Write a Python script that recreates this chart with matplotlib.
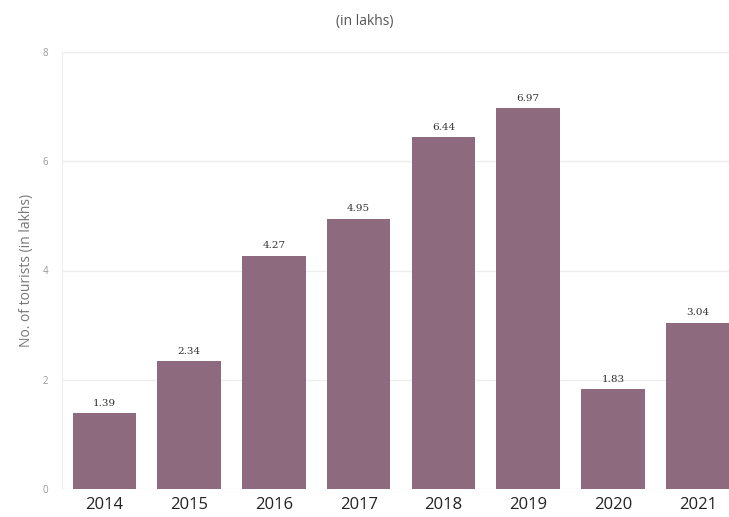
import matplotlib
matplotlib.use("Agg")
import matplotlib.pyplot as plt

years = ["2014", "2015", "2016", "2017", "2018", "2019", "2020", "2021"]
tourists = [1.39, 2.34, 4.27, 4.95, 6.44, 6.97, 1.83, 3.04]
yticks = [0, 2, 4, 6, 8]

plt.rcParams['font.family'] = ['Open Sans', 'DejaVu Sans']

fig = plt.figure(figsize=(7.29, 5.17), dpi=100)
ax = fig.add_axes([62/729, (517-489)/517, 1 - 62/729, (489-52)/517])

x = list(range(len(years)))
bars = ax.bar(x, tourists, width=0.75, color="#8E6A7E", zorder=3)
for xi, v in zip(x, tourists):
    ax.text(xi, v + 0.1, f"{v:.2f}", ha="center", va="bottom", fontsize=7.5,
            color="#333333", family=["DejaVu Serif"])

ax.set_xlim(-0.5, 7.37)
ax.set_ylim(0, 8)
ax.set_yticks(yticks)
ax.set_yticklabels([str(t) for t in yticks], fontsize=7, color="#999999")
ax.set_xticks(x)
ax.set_xticklabels(years, fontsize=12, color="#222222")
ax.tick_params(axis="both", length=0)
ax.tick_params(axis="y", pad=10)
ax.tick_params(axis="x", pad=6)
ax.grid(axis="y", color="#EEEEEE", linewidth=1, zorder=0)
for s in ["top", "right", "bottom"]:
    ax.spines[s].set_visible(False)
ax.spines["left"].set_color("#EEEEEE")
ax.set_ylabel("No. of tourists (in lakhs)", fontsize=10, color="#777777", labelpad=6)

fig.text(0.5, 1 - 22/517, "(in lakhs)", ha="center", va="center", fontsize=10, color="#555555")

fig.savefig("out.png", dpi=100)
